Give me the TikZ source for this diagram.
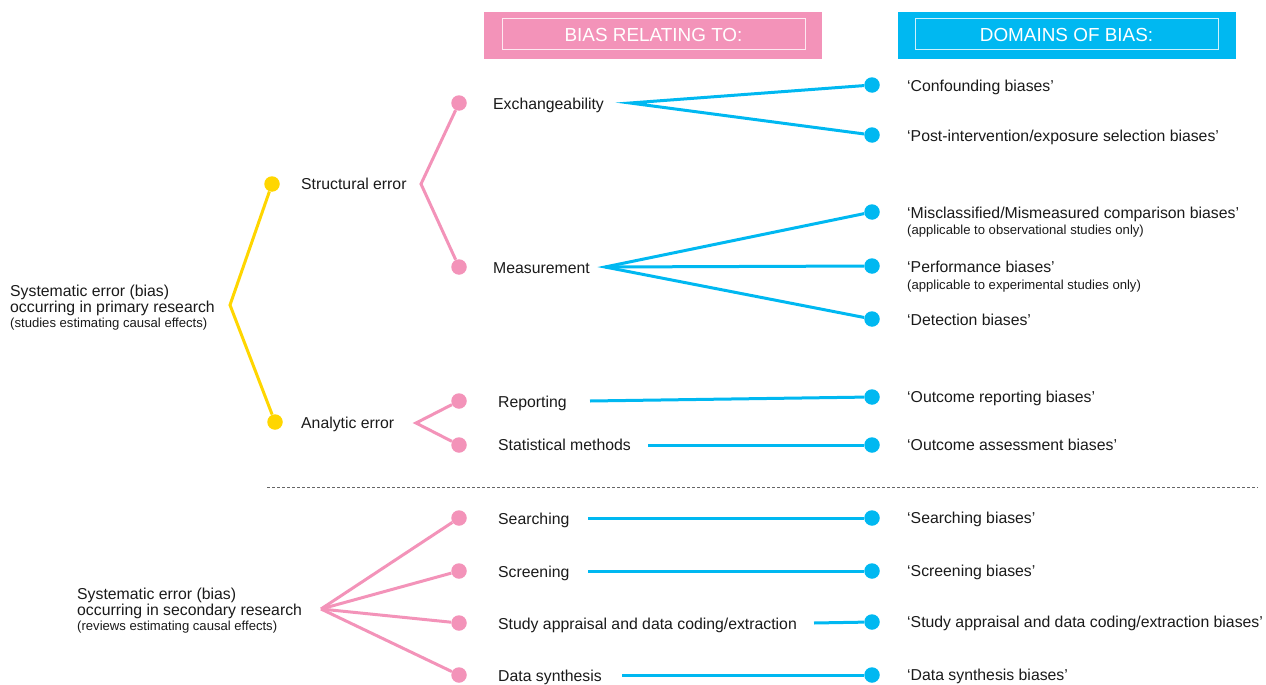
\documentclass[tikz,border=0pt]{standalone}
\usepackage{fontspec}
\setmainfont{Liberation Sans}
\definecolor{pinkc}{HTML}{F393B9}
\definecolor{bluec}{HTML}{00B8F1}
\definecolor{yelc}{HTML}{FFD600}
\definecolor{txt}{HTML}{1A1A1A}
\begin{document}
\begin{tikzpicture}[x=1pt,y=-1pt,
  dot/.style={circle,inner sep=0pt,minimum size=15.5pt,fill=#1},
  lbl/.style={anchor=base west,inner sep=0pt,yshift=-5.6pt,text=txt,font=\fontsize{15.8}{17}\selectfont},
  note/.style={anchor=base west,inner sep=0pt,yshift=-4.5pt,text=txt,font=\fontsize{13.1}{14}\selectfont},
  link/.style={line width=3pt,draw=#1},
  hbox/.style={fill=#1,minimum width=338pt,minimum height=47pt,inner sep=0pt},
  hinner/.style={draw=white!80!#1,line width=1pt,minimum width=303pt,minimum height=31pt,inner sep=0pt,text=white,font=\fontsize{18.9}{20}\selectfont}]
\useasboundingbox (0,0) rectangle (1266,685);

% headers
\node[hbox=pinkc] (hb1) at (653,35.5) {};
\node[hinner=pinkc] (ht1) at (653.5,34.5) {BIAS RELATING TO:};
\node[hbox=bluec] (hb2) at (1066.5,35.5) {};
\node[hinner=bluec] (ht2) at (1066.5,34.5) {DOMAINS OF BIAS:};

% left labels
\node[anchor=west,inner sep=0pt,align=left,text=txt] (prim) at (10,307.5)
 {\fontsize{15.8}{17}\selectfont Systematic error (bias)\\
  \fontsize{15.8}{17}\selectfont occurring in primary research\\[1pt]
  \fontsize{13.1}{15}\selectfont (studies estimating causal effects)};
\node[anchor=west,inner sep=0pt,align=left,text=txt] (sec) at (77,610.5)
 {\fontsize{15.8}{17}\selectfont Systematic error (bias)\\
  \fontsize{15.8}{17}\selectfont occurring in secondary research\\[1pt]
  \fontsize{13.1}{15}\selectfont (reviews estimating causal effects)};

% yellow level
\node[dot=yelc] (sd) at (272,184) {};
\node[dot=yelc] (ad) at (275,422) {};
\node[lbl] (sl) at (301,184) {Structural error};
\node[lbl] (al) at (301,423) {Analytic error};
\coordinate (yh) at (230,305);
\draw[link=yelc] (sd) -- (yh) -- (ad);

% pink level
\node[dot=pinkc] (exd) at (459,103) {};
\node[dot=pinkc] (msd) at (459,267) {};
\node[dot=pinkc] (rpd) at (459,401) {};
\node[dot=pinkc] (smd) at (459,445) {};
\node[dot=pinkc] (srd) at (459,518) {};
\node[dot=pinkc] (scd) at (459,571) {};
\node[dot=pinkc] (sad) at (459,623) {};
\node[dot=pinkc] (dsd) at (459,675) {};
\node[lbl] (exl) at (493,104) {Exchangeability};
\node[lbl] (msl) at (493,268) {Measurement};
\node[lbl] (rpl) at (498,402) {Reporting};
\node[lbl] (sml) at (498,445) {Statistical methods};
\node[lbl] (srl) at (498,519) {Searching};
\node[lbl] (scl) at (498,572) {Screening};
\node[lbl] (sal) at (498,624) {Study appraisal and data coding/extraction};
\node[lbl] (dsl) at (498,676) {Data synthesis};
\coordinate (ph1) at (421,184);
\coordinate (ph2) at (416,423);
\coordinate (ph3) at (321,609);
\draw[link=pinkc] (exd) -- (ph1) -- (msd);
\draw[link=pinkc] (rpd) -- (ph2) -- (smd);
\draw[link=pinkc] (ph3) -- (srd);
\draw[link=pinkc] (ph3) -- (scd);
\draw[link=pinkc] (ph3) -- (sad);
\draw[link=pinkc] (ph3) -- (dsd);

% blue level
\node[dot=bluec] (b1) at (872,85) {};
\node[dot=bluec] (b2) at (872,135) {};
\node[dot=bluec] (b3) at (872,212) {};
\node[dot=bluec] (b4) at (872,266) {};
\node[dot=bluec] (b5) at (872,319) {};
\node[dot=bluec] (b6) at (872,397) {};
\node[dot=bluec] (b7) at (872,445) {};
\node[dot=bluec] (b8) at (872,518) {};
\node[dot=bluec] (b9) at (872,571) {};
\node[dot=bluec] (b10) at (872,622) {};
\node[dot=bluec] (b11) at (872,675) {};
\node[lbl] (d1) at (907,86) {‘Confounding biases’};
\node[lbl] (d2) at (907,136) {‘Post-intervention/exposure selection biases’};
\node[lbl] (d3) at (907,213) {‘Misclassified/Mismeasured comparison biases’};
\node[note] (n3) at (907,230) {(applicable to observational studies only)};
\node[lbl] (d4) at (907,267) {‘Performance biases’};
\node[note] (n4) at (907,285) {(applicable to experimental studies only)};
\node[lbl] (d5) at (907,320) {‘Detection biases’};
\node[lbl] (d6) at (907,397) {‘Outcome reporting biases’};
\node[lbl] (d7) at (907,445) {‘Outcome assessment biases’};
\node[lbl] (d8) at (907,518) {‘Searching biases’};
\node[lbl] (d9) at (907,571) {‘Screening biases’};
\node[lbl] (d10) at (907,622) {‘Study appraisal and data coding/extraction biases’};
\node[lbl] (d11) at (907,675) {‘Data synthesis biases’};

\coordinate (bh1) at (630,103);
\coordinate (bh2) at (605,267);
\coordinate (c6) at (590,401);
\coordinate (c7) at (648,445);
\coordinate (c8) at (588,518);
\coordinate (c9) at (588,571);
\coordinate (c10) at (814,623);
\coordinate (c11) at (622,675);
\draw[link=bluec] (b1) -- (bh1) -- (b2);
\draw[link=bluec] (b3) -- (bh2) -- (b5);
\draw[link=bluec] (bh2) -- (b4);
\draw[link=bluec] (c6) -- (b6);
\draw[link=bluec] (c7) -- (b7);
\draw[link=bluec] (c8) -- (b8);
\draw[link=bluec] (c9) -- (b9);
\draw[link=bluec] (c10) -- (b10);
\draw[link=bluec] (c11) -- (b11);

% divider
\coordinate (dl1) at (267,487);
\coordinate (dl2) at (1258,487);
\draw[gray!80!black,line width=0.8pt,dash pattern=on 3pt off 2pt] (dl1) -- (dl2);
\end{tikzpicture}
\end{document}
